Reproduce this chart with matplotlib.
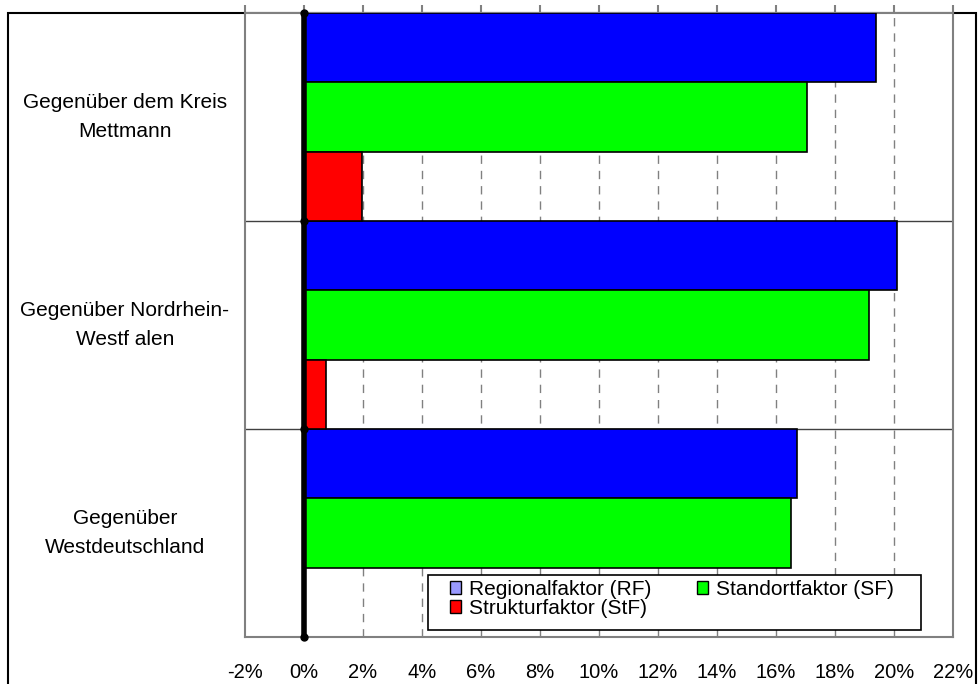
import matplotlib
matplotlib.use("Agg")
import matplotlib.pyplot as plt
from matplotlib.patches import Rectangle
import matplotlib.transforms as mtransforms
import numpy as np

plt.rcParams['font.family'] = ['Liberation Sans', 'DejaVu Sans']

categories = ["Gegenüber dem Kreis\nMettmann",
              "Gegenüber Nordrhein-\nWestf alen",
              "Gegenüber\nWestdeutschland"]
series_names = ["Regionalfaktor (RF)", "Standortfaktor (SF)", "Strukturfaktor (StF)"]
regionalfaktor = [19.4, 20.1, 16.7]
standortfaktor = [17.05, 19.15, 16.5]
strukturfaktor = [1.95, 0.75, 0.0]
bar_colors = ["#0000FF", "#00FF00", "#FF0000"]
legend_colors = ["#9999FF", "#00FF00", "#FF0000"]
x_ticks = list(range(-2, 23, 2))

FS = 15
W, H = 979, 684
fig = plt.figure(figsize=(W / 100, H / 100), dpi=100)
ax = fig.add_axes([245 / W, 1 - 637 / H, (953 - 245) / W, (637 - 13) / H])

y = np.arange(len(categories))
h = 1 / 3
for i, (vals, col) in enumerate(zip([regionalfaktor, standortfaktor, strukturfaktor], bar_colors)):
    ax.barh(y - h + i * h, vals, height=h, color=col, edgecolor="black",
            linewidth=1.2, zorder=3)

ax.set_xlim(-2, 22)
ax.set_ylim(2.5, -0.5)

# dashed vertical gridlines
for t in x_ticks[2:-1]:
    ax.axvline(t, color="#808080", lw=1, ls=(0, (6, 5)), zorder=1)
# category separators
for b in [0.5, 1.5]:
    ax.axhline(b, color="#404040", lw=1, zorder=2)

# zero axis with markers at category boundaries
ax.plot([0, 0], [-0.5, 2.5], color="black", lw=4, zorder=5, solid_capstyle="butt")
ax.plot([0] * 4, [-0.5, 0.5, 1.5, 2.5], ls="none", marker="o", ms=5,
        color="black", zorder=6, clip_on=False)

ax.set_xticks(x_ticks)
ax.set_xticklabels([f"{t}%" for t in x_ticks], fontsize=14.5)
ax.tick_params(axis="x", top=True, bottom=False, labeltop=False, labelbottom=True,
               direction="out", length=6, width=1.5, color="#808080", pad=13)
ax.set_yticks([])

# category labels, centred in the left margin
trans = mtransforms.blended_transform_factory(fig.transFigure, ax.transData)
for yi, lab in zip(y, categories):
    ax.text(125 / W, yi, lab, transform=trans, ha="center", va="center",
            fontsize=FS, linespacing=1.7, clip_on=False)

for s in ax.spines.values():
    s.set_color("#808080")
    s.set_linewidth(1.5)

# outer chart frame
frame = Rectangle((8 / W, -0.1), (976 - 8) / W, (1 - 13 / H) + 0.1,
                  transform=fig.transFigure, fill=False, edgecolor="black",
                  lw=1.5, zorder=0)
fig.add_artist(frame)

# legend box
legbox = Rectangle((428 / W, 1 - 630 / H), (921 - 428) / W, 55 / H,
                   transform=fig.transFigure, facecolor="white", edgecolor="black",
                   lw=1.2, zorder=9)
fig.add_artist(legbox)

handles = [Rectangle((0, 0), 1, 1, facecolor=c, edgecolor="black", lw=1)
           for c in legend_colors]
order = [0, 2, 1]
leg = fig.legend([handles[i] for i in order], [series_names[i] for i in order],
                 loc="upper left", bbox_to_anchor=(450 / W, 1 - 580 / H),
                 ncol=2, fontsize=FS, frameon=False, borderaxespad=0,
                 labelspacing=0.0, handlelength=0.55, handleheight=0.55,
                 handletextpad=0.35, columnspacing=2.2, borderpad=0)
leg.set_zorder(10)

fig.savefig("out.png", dpi=100)
